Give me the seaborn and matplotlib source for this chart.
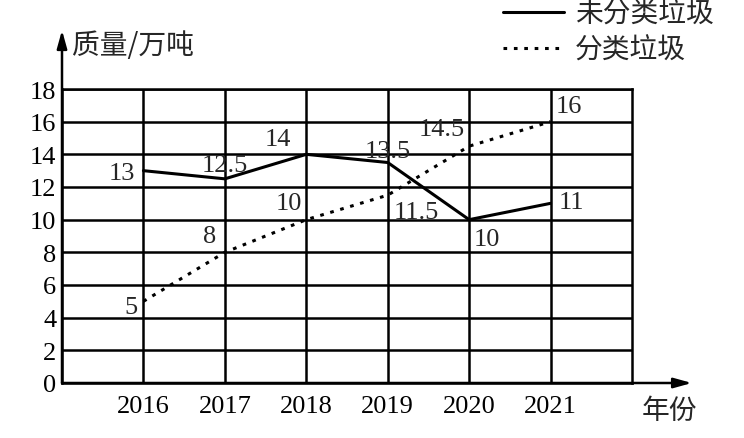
import matplotlib
matplotlib.use("Agg")
import matplotlib.pyplot as plt
import pandas as pd
import seaborn as sns

# data
years = [2016, 2017, 2018, 2019, 2020, 2021]
unsorted_waste = [13, 12.5, 14, 13.5, 10, 11]
sorted_waste = [5, 8, 10, 11.5, 14.5, 16]
y_ticks = [0, 2, 4, 6, 8, 10, 12, 14, 16, 18]
series_names = ["未分类垃圾", "分类垃圾"]
y_title = "质量/万吨"
x_title = "年份"

# label offsets in points (placement only)
unsorted_offsets = [(-6, -2), (0, 10), (-11, 11), (0, 8), (3, -14), (6, 1)]
unsorted_align = ["right", "center", "right", "center", "left", "left"]
sorted_offsets = [(-4, -4), (-6, 12), (-3, 12), (4, -12), (-3, 12), (4, 11)]
sorted_align = ["right", "right", "right", "left", "right", "left"]

sns.set_theme(style="white")
plt.rcParams["font.family"] = ["Liberation Serif", "Noto Sans CJK SC", "DejaVu Sans"]
cjk = ["Noto Sans CJK SC", "DejaVu Sans"]

df = pd.DataFrame({"year": years, "unsorted": unsorted_waste, "sorted": sorted_waste})

fig = plt.figure(figsize=(7.44, 4.39), dpi=100)
ax = fig.add_axes([62 / 744, 55 / 439, 570 / 744, 294 / 439])

sns.lineplot(data=df, x="year", y="unsorted", ax=ax, color="black", lw=2.2,
             label=series_names[0])
sns.lineplot(data=df, x="year", y="sorted", ax=ax, color="black", lw=2.2,
             linestyle=(0, (1.2, 2.2)), label=series_names[1])

ax.set_xlim(2015, 2022)
ax.set_ylim(0, 18)
ax.set_xticks(years)
ax.set_xticklabels([str(y) for y in years])
ax.set_yticks(y_ticks)
ax.tick_params(axis="both", length=0, labelsize=19, colors="black")
ax.tick_params(axis="y", pad=4)
ax.tick_params(axis="x", pad=9)
ax.grid(True, color="black", lw=1.8)
ax.set_axisbelow(True)
for s in ax.spines.values():
    s.set_color("black")
    s.set_linewidth(1.8)
ax.set_xlabel("")
ax.set_ylabel("")

# axis arrows
ax.annotate("", xy=(0, 1.2), xytext=(0, 0), xycoords="axes fraction",
            arrowprops=dict(arrowstyle="-|>,head_length=0.9,head_width=0.25",
                            color="black", lw=1.8, shrinkA=0, shrinkB=0),
            annotation_clip=False)
ax.annotate("", xy=(1.105, 0), xytext=(0, 0), xycoords="axes fraction",
            arrowprops=dict(arrowstyle="-|>,head_length=0.9,head_width=0.25",
                            color="black", lw=1.8, shrinkA=0, shrinkB=0),
            annotation_clip=False)

# value labels
for x, v, off, ha in zip(years, unsorted_waste, unsorted_offsets, unsorted_align):
    ax.annotate(f"{v:g}", (x, v), xytext=off, textcoords="offset points",
                ha=ha, va="center", fontsize=19, annotation_clip=False)
for x, v, off, ha in zip(years, sorted_waste, sorted_offsets, sorted_align):
    ax.annotate(f"{v:g}", (x, v), xytext=off, textcoords="offset points",
                ha=ha, va="center", fontsize=19, annotation_clip=False)

fig.text(72 / 744, 1 - 46 / 439, y_title, family=cjk, fontsize=20,
         ha="left", va="center")
fig.text(642 / 744, 1 - 411 / 439, x_title, family=cjk, fontsize=20,
         ha="left", va="center")

leg = ax.legend(loc="upper left", bbox_to_anchor=(503 / 744, 1.0),
                bbox_transform=fig.transFigure, frameon=False,
                borderpad=0, borderaxespad=0, handlelength=2.2,
                handletextpad=0.4, labelspacing=0.22,
                prop={"family": cjk, "size": 20})

fig.savefig("out.png", dpi=100)
